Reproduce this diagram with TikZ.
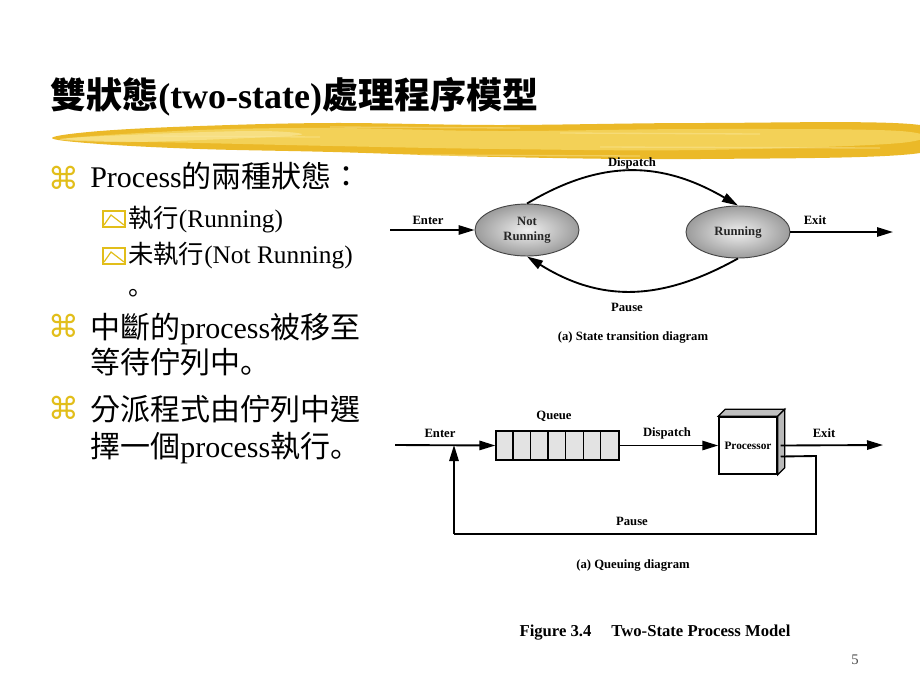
\documentclass[tikz,border=0pt]{standalone}
\usepackage{fontspec}
\setmainfont{Liberation Serif}
\newfontfamily\cjk{Noto Sans CJK TC}
\newfontfamily\cjkp{Noto Sans CJK JP}
\newfontfamily\symf{DejaVu Sans}
\usetikzlibrary{arrows.meta,shapes.geometric,calc}
\definecolor{bulyel}{HTML}{E2BE1A}
\definecolor{brushA}{HTML}{EBB928}
\definecolor{brushB}{HTML}{F6D863}
\definecolor{brushC}{HTML}{FAE9A0}
\tikzset{
  subbox/.pic={
    \draw[bulyel, line width=0.9pt] (-11,-8) rectangle (11,8);
    \draw[bulyel, line width=0.9pt] (-10,6) -- (-3,-4) -- (10,6);
  }
}
\begin{document}
\begin{tikzpicture}[x=0.75pt,y=-0.75pt,
  lbl/.style={font=\fontsize{9.5pt}{11pt}\selectfont\bfseries, inner sep=0pt},
  body/.style={font=\fontsize{22.5pt}{27pt}\selectfont, anchor=base west, inner sep=0pt},
  sub/.style={font=\fontsize{19pt}{23pt}\selectfont, anchor=base west, inner sep=0pt},
  bul/.style={font=\symf\fontsize{23pt}{26pt}\selectfont, text=bulyel, inner sep=0pt},
  arr/.style={line width=1.4pt, -{Triangle[length=12pt,width=7pt]}},
  ln/.style={line width=1.4pt},
  state/.style={ellipse, draw=gray!55!black, line width=0.7pt, inner color=gray!12, outer color=gray!78,
    minimum width=78pt, minimum height=39pt, align=center, inner sep=0pt,
    font=\fontsize{9.5pt}{11pt}\selectfont\bfseries, text=black!85}
]
\useasboundingbox (0,0) rectangle (920,690);
\fill[white] (0,0) rectangle (920,690);

% brush stroke
\fill[brushA] plot[smooth cycle, tension=0.6] coordinates {(52,138) (100,131) (200,126) (333,123) (500,125) (700,123) (920,125)
  (920,153) (700,159) (500,157) (333,152) (200,149) (100,144)};
\fill[brushB, opacity=0.8] plot[smooth cycle, tension=0.6] coordinates {(70,138) (200,130) (333,128) (500,131) (700,129) (900,131)
  (900,143) (700,150) (500,149) (333,146) (200,143) (110,141)};
\fill[brushC, opacity=0.6] plot[smooth cycle, tension=0.6] coordinates {(60,139) (150,134) (260,131) (300,135) (200,140) (120,142)};
\foreach \yy/\xa/\xb in {127/330/520, 133/560/760, 147/600/880, 155/420/640, 136/150/320} {
  \draw[brushC, line width=1pt, opacity=0.45] (\xa,\yy) -- (\xb,\yy+1);
}

% title
\node[anchor=base west, inner sep=0pt, font=\fontsize{27pt}{31pt}\selectfont\bfseries] (title) at (50,108)
  {{\cjk\bfseries 雙狀態}(two-state){\cjk\bfseries 處理程序模型}};

% left text
\node[bul] (b1) at (64,178) {⌘};
\node[body] (t1) at (90,187) {Process{\cjk 的兩種狀態：}};
\pic at (114,219) {subbox};
\node[sub] (t2) at (128,227) {{\cjk 執行}(Running)};
\pic at (114,256) {subbox};
\node[sub] (t3) at (128,263) {{\cjk 未執行}(Not Running)};
\node[sub] (t4) at (128,295) {{\cjkp 。}};
\node[bul] (b2) at (64,326) {⌘};
\node[body] (t5) at (90,338) {{\cjk 中斷的}process{\cjk 被移至}};
\node[body] (t6) at (90,373) {{\cjk 等待佇列中}{\cjkp 。}};
\node[bul] (b3) at (64,408) {⌘};
\node[body] (t7) at (90,420) {{\cjk 分派程式由佇列中選}};
\node[body] (t8) at (90,457) {{\cjk 擇一個}process{\cjk 執行}{\cjkp 。}};

% (a) state transition diagram
\node[state] (nr) at (527,230) {Not\\Running};
\node[state] (run) at (738,232) {Running};
\coordinate (enA) at (390,230);
\coordinate (exA) at (893,232);
\draw[arr] (enA) -- (nr.west);
\draw[arr] (run.east) -- (exA);
\draw[arr] (nr.north) .. controls (600,160) and (660,160) .. (run.north);
\draw[arr] (run.south) .. controls (660,302) and (600,302) .. (nr.south);
\node[lbl] (lenA) at (428,220) {Enter};
\node[lbl] (lexA) at (815,220) {Exit};
\node[lbl] (ldA) at (632,163) {Dispatch};
\node[lbl] (lpA) at (627,307) {Pause};
\node[lbl] (capA) at (633,337) {(a) State transition diagram};

% (b) queuing diagram
\node[draw, line width=1.2pt, fill=gray!22, minimum width=92pt, minimum height=21.75pt, inner sep=0pt] (q) at (557.5,445.5) {};
\foreach \i in {1,...,6} {
  \draw[line width=0.9pt] ($(q.north west)+(\i*17.57,0)$) -- ($(q.south west)+(\i*17.57,0)$);
}
\node[draw, line width=1.1pt, fill=white, minimum width=43.5pt, minimum height=42.75pt, inner sep=0pt,
  font=\fontsize{8.5pt}{10pt}\selectfont\bfseries] (p) at (748,445.5) {Processor};
\fill[gray!50, draw=black, line width=0.9pt] (p.north west) -- ++(7,-7) -- ($(p.north east)+(7,-7)$) -- (p.north east) -- cycle;
\fill[gray!55, draw=black, line width=0.9pt] (p.north east) -- ($(p.north east)+(7,-7)$) -- ($(p.south east)+(7,-7)$) -- (p.south east) -- cycle;

\coordinate (enB) at (395,445);
\coordinate (jn) at (454,445);
\coordinate (exB) at (883,445);
\coordinate (po) at ($(p.east)+(3,11)$);
\coordinate (c1) at (816,456);
\coordinate (c2) at (816,534);
\coordinate (c3) at (454,534);
\draw[arr] (enB) -- (q.west);
\draw[arr] (q.east) -- (p.west);
\draw[arr] ($(p.east)+(3,0)$) -- (exB);
\draw[ln] (po) -- (c1) -- (c2) -- (c3);
\draw[arr] (c3) -- (jn);
\node[lbl] (lenB) at (440,433) {Enter};
\node[lbl] (lq) at (554,416) {Queue};
\node[lbl] (ldB) at (667,433) {Dispatch};
\node[lbl] (lexB) at (824,433) {Exit};
\node[lbl] (lpB) at (632,521) {Pause};
\node[lbl] (capB) at (633,565) {(a) Queuing diagram};

\node[inner sep=0pt, font=\fontsize{12.5pt}{15pt}\selectfont\bfseries] (fig) at (655,633) {Figure 3.4\hspace{1.2em}Two-State Process Model};
\node[inner sep=0pt, font=\fontsize{11pt}{13pt}\selectfont, text=black!70] (pg) at (855,660) {5};
\end{tikzpicture}
\end{document}
